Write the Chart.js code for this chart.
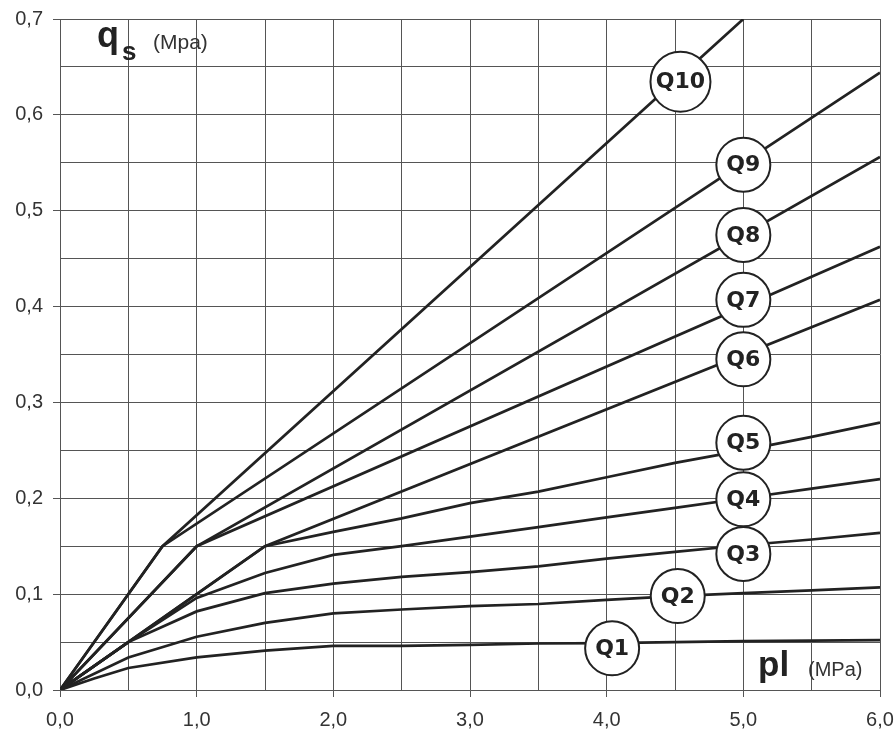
<!DOCTYPE html>
<html>
<head>
<meta charset="utf-8">
<script src="https://cdn.jsdelivr.net/npm/chart.js@4.4.1/dist/chart.umd.min.js"></script>
<style>
html,body{margin:0;padding:0;background:#fff;}
canvas{display:block;}
</style>
</head>
<body>
<canvas id="c" width="895" height="733"></canvas>
<script>
// ---- data (pl in MPa, qs in MPa) ----
const seriesNames = ['Q1','Q2','Q3','Q4','Q5','Q6','Q7','Q8','Q9','Q10'];

const plQ1 = [0, 0.25, 0.5, 1.0, 1.5, 2.0, 2.5, 3.0, 3.5, 4.0, 4.5, 5.0, 5.5, 6.0];
const qsQ1 = [0, 0.012, 0.023, 0.034, 0.041, 0.046, 0.046, 0.047, 0.0485, 0.049, 0.050, 0.051, 0.0515, 0.052];

const plQ2 = [0, 0.5, 1.0, 1.5, 2.0, 2.5, 3.0, 3.5, 4.0, 4.5, 5.0, 5.5, 6.0];
const qsQ2 = [0, 0.034, 0.0556, 0.070, 0.080, 0.084, 0.0876, 0.0897, 0.094, 0.098, 0.101, 0.104, 0.107];

const plQ3 = [0, 0.5, 1.0, 1.5, 2.0, 2.5, 3.0, 3.5, 4.0, 4.5, 5.0, 5.5, 6.0];
const qsQ3 = [0, 0.050, 0.082, 0.101, 0.111, 0.118, 0.123, 0.129, 0.137, 0.144, 0.151, 0.157, 0.164];

const plQ4 = [0, 0.5, 1.0, 1.5, 2.0, 2.5, 3.0, 3.5, 4.0, 4.5, 5.0, 5.5, 6.0];
const qsQ4 = [0, 0.050, 0.096, 0.122, 0.141, 0.150, 0.160, 0.170, 0.180, 0.190, 0.200, 0.210, 0.220];

const plQ5 = [0, 0.5, 1.0, 1.5, 2.0, 2.5, 3.0, 3.5, 4.0, 4.5, 5.0, 5.5, 6.0];
const qsQ5 = [0, 0.050, 0.100, 0.150, 0.165, 0.179, 0.195, 0.207, 0.222, 0.237, 0.250, 0.264, 0.279];

const plQ6 = [0, 1.5, 6.0];
const qsQ6 = [0, 0.150, 0.407];

const plQ7 = [0, 1.0, 6.0];
const qsQ7 = [0, 0.150, 0.4625];

const plQ8 = [0, 1.0, 6.0];
const qsQ8 = [0, 0.150, 0.556];

const plQ9 = [0, 0.75, 6.0];
const qsQ9 = [0, 0.150, 0.644];

const plQ10 = [0, 0.75, 5.0];
const qsQ10 = [0, 0.150, 0.700];

// label bubble positions (data coordinates)
const labelPl = [4.04, 4.52, 5.0, 5.0, 5.0, 5.0, 5.0, 5.0, 5.0, 4.54];
const labelQs = [0.0435, 0.098, 0.142, 0.199, 0.258, 0.345, 0.407, 0.4747, 0.548, 0.6346];

// axis tick labels
const xTickLabels = ['0,0','1,0','2,0','3,0','4,0','5,0','6,0'];
const yTickLabels = ['0,0','0,1','0,2','0,3','0,4','0,5','0,6','0,7'];

// ---- build ----
const plArrays = [plQ1,plQ2,plQ3,plQ4,plQ5,plQ6,plQ7,plQ8,plQ9,plQ10];
const qsArrays = [qsQ1,qsQ2,qsQ3,qsQ4,qsQ5,qsQ6,qsQ7,qsQ8,qsQ9,qsQ10];

const INK = '#222';
const GRID = '#555';

const datasets = seriesNames.map((n, i) => ({
  label: n,
  data: plArrays[i].map((x, k) => ({x: x, y: qsArrays[i][k]})),
  borderColor: INK,
  borderWidth: 2.7,
  pointRadius: 0,
  fill: false,
  tension: 0
}));

function isMajorX(v){ return Math.abs(v - Math.round(v)) < 1e-6; }
function isMajorY(v){ return Math.abs(v*10 - Math.round(v*10)) < 1e-6; }

const bubblePlugin = {
  id: 'bubbles',
  afterDatasetsDraw(chart) {
    const ctx = chart.ctx;
    const xs = chart.scales.x, ys = chart.scales.y;
    ctx.save();
    seriesNames.forEach((n, i) => {
      const cx = xs.getPixelForValue(labelPl[i]);
      const cy = ys.getPixelForValue(labelQs[i]);
      const r = n === 'Q10' ? 30 : 27;
      ctx.beginPath();
      ctx.arc(cx, cy, r, 0, Math.PI * 2);
      ctx.fillStyle = '#fff';
      ctx.fill();
      ctx.lineWidth = 2;
      ctx.strokeStyle = INK;
      ctx.stroke();
      ctx.fillStyle = INK;
      ctx.font = 'bold 22px "DejaVu Sans"';
      ctx.textAlign = 'center';
      ctx.textBaseline = 'middle';
      ctx.fillText(n, cx, cy + 1);
    });
    // axis titles
    const a = chart.chartArea;
    ctx.fillStyle = INK;
    ctx.textAlign = 'left';
    ctx.textBaseline = 'alphabetic';
    ctx.font = 'bold 36px "Liberation Sans"';
    ctx.fillText('q', a.left + 37, a.top + 28);
    ctx.font = 'bold 26px "Liberation Sans"';
    ctx.fillText('s', a.left + 62, a.top + 41);
    ctx.fillStyle = '#333';
    ctx.font = '21px "Liberation Sans"';
    ctx.fillText('(Mpa)', a.left + 93, a.top + 30);

    ctx.fillStyle = INK;
    ctx.font = 'bold 35px "Liberation Sans"';
    ctx.fillText('pl', a.left + 698, a.bottom - 14);
    ctx.fillStyle = '#333';
    ctx.font = '20px "Liberation Sans"';
    ctx.fillText('(MPa)', a.left + 748, a.bottom - 14);
    ctx.restore();
  }
};

new Chart(document.getElementById('c'), {
  type: 'line',
  data: { datasets },
  options: {
    responsive: false,
    animation: false,
    devicePixelRatio: 1,
    layout: { padding: { top: 19, left: 0, right: 15, bottom: 0 } },
    plugins: { legend: { display: false }, tooltip: { enabled: false } },
    elements: { point: { radius: 0 } },
    scales: {
      x: {
        type: 'linear',
        min: 0, max: 6,
        afterFit(s) { s.height = 43; s.paddingRight = 0; s.paddingLeft = 0; },
        ticks: {
          stepSize: 0.5,
          autoSkip: false,
          maxRotation: 0,
          padding: 11,
          color: '#333',
          font: { family: '"Liberation Sans"', size: 20 },
          callback: v => isMajorX(v) ? xTickLabels[Math.round(v)] : ''
        },
        grid: {
          color: GRID,
          lineWidth: 1,
          tickLength: 7,
          tickColor: c => (c.tick && isMajorX(c.tick.value)) ? GRID : 'rgba(0,0,0,0)'
        },
        border: { color: GRID, width: 1 }
      },
      y: {
        type: 'linear',
        min: 0, max: 0.7,
        afterFit(s) { s.width = 60; s.paddingTop = 0; s.paddingBottom = 0; },
        ticks: {
          stepSize: 0.05,
          autoSkip: false,
          padding: 10,
          color: '#333',
          font: { family: '"Liberation Sans"', size: 20 },
          callback: v => isMajorY(v) ? yTickLabels[Math.round(v * 10)] : ''
        },
        grid: {
          color: GRID,
          lineWidth: 1,
          tickLength: 7,
          tickColor: c => (c.tick && isMajorY(c.tick.value)) ? GRID : 'rgba(0,0,0,0)'
        },
        border: { color: GRID, width: 1 }
      }
    }
  },
  plugins: [bubblePlugin]
});
</script>
</body>
</html>
